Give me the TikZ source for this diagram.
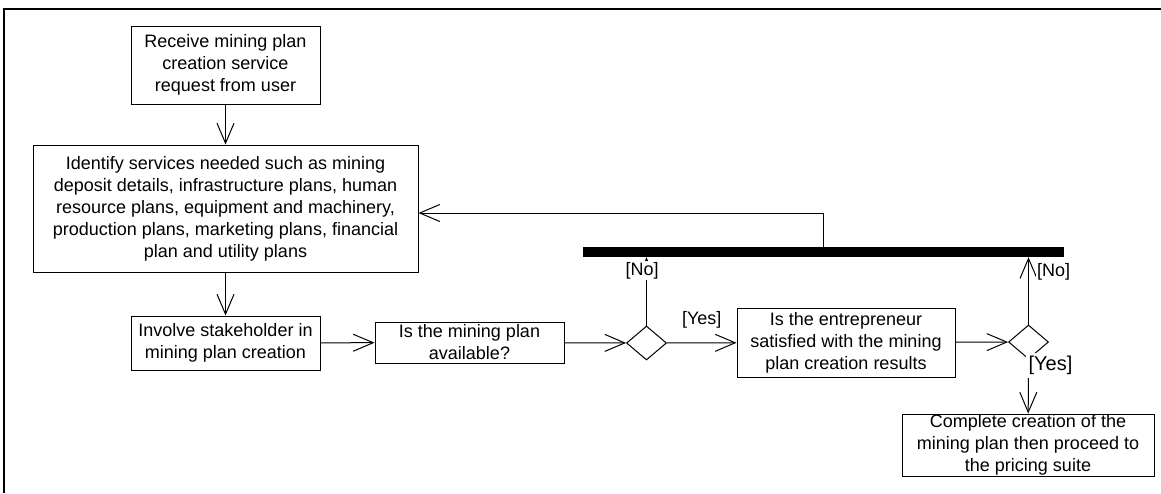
\documentclass[tikz,border=0pt]{standalone}
\usepackage{fontspec}
\setmainfont{Liberation Sans}
\usetikzlibrary{shapes.geometric, arrows.meta, positioning}

\tikzset{
    act/.style={rectangle, draw, line width=1pt, align=center, inner sep=0pt,
        font=\fontsize{18}{22}\selectfont},
    dec/.style={diamond, draw, line width=1pt, minimum width=40pt,
        minimum height=34pt, inner sep=0pt},
    flow/.style={line width=1pt,
        -{Straight Barb[length=20pt, width=17pt, line width=1pt]}},
    guard/.style={fill=white, inner sep=1pt, font=\fontsize{18}{22}\selectfont},
}

\begin{document}
\begin{tikzpicture}[x=1pt, y=-1pt]
        \useasboundingbox (0,0) rectangle (1161,493);
        \draw[line width=2pt] (4,493) -- (4,9) -- (1161,9);

        \node[act, minimum width=189pt, minimum height=78pt] (recv) at (225.5, 65) {Receive mining plan\\creation service\\request from user};
        \node[act, minimum width=385pt, minimum height=127pt] (ident) at (225.5, 208.5) {Identify services needed such as mining\\deposit details, infrastructure plans, human\\resource plans, equipment and machinery,\\production plans, marketing plans, financial\\plan and utility plans};
        \node[act, minimum width=189pt, minimum height=54pt] (stake) at (225.5, 343) {Involve stakeholder in\\mining plan creation};
        \node[act, minimum width=189pt, minimum height=41pt] (avail) at (469.5, 342.5) {Is the mining plan\\available?};
        \node[dec] (d1) at (646.5, 343) {};
        \node[act, minimum width=218pt, minimum height=69pt] (satis) at (846, 342.5) {Is the entrepreneur\\satisfied with the mining\\plan creation results};
        \node[dec] (d2) at (1028.5, 342) {};
        \node[act, minimum width=252pt, minimum height=62pt] (done) at (1028, 445) {Complete creation of the\\mining plan then proceed to\\the pricing suite};
        \node[fill=black, minimum width=481pt, minimum height=10pt, inner sep=0pt] (bar) at (823.5, 252) {};
        \coordinate (back) at (823, 213);

        \draw[flow] (recv) to (ident);
        \draw[flow] (ident) to (stake);
        \draw[flow] (stake) to (avail);
        \draw[flow] (avail) to (d1);
        \draw[flow] (d1) to node[guard, midway, yshift=23pt] {[Yes]} (satis);
        \draw[flow] (satis) to (d2);
        \draw[flow] (d1.north) to node[guard, pos=0.8, xshift=-4.5pt] {[No]} (d1.north |- bar.south);
        \draw[flow] (d2.north) to node[guard, pos=0.78, anchor=west, xshift=7pt] {[No]} (d2.north |- bar.south);
        \draw[flow] (d2.south) to node[guard, pos=0.11, xshift=22pt, inner sep=3pt,
            font=\fontsize{20}{24}\selectfont] {[Yes]} (done);
        \draw[flow] (bar.north -| back) |- (ident.east |- back);
    \end{tikzpicture}
\end{document}
